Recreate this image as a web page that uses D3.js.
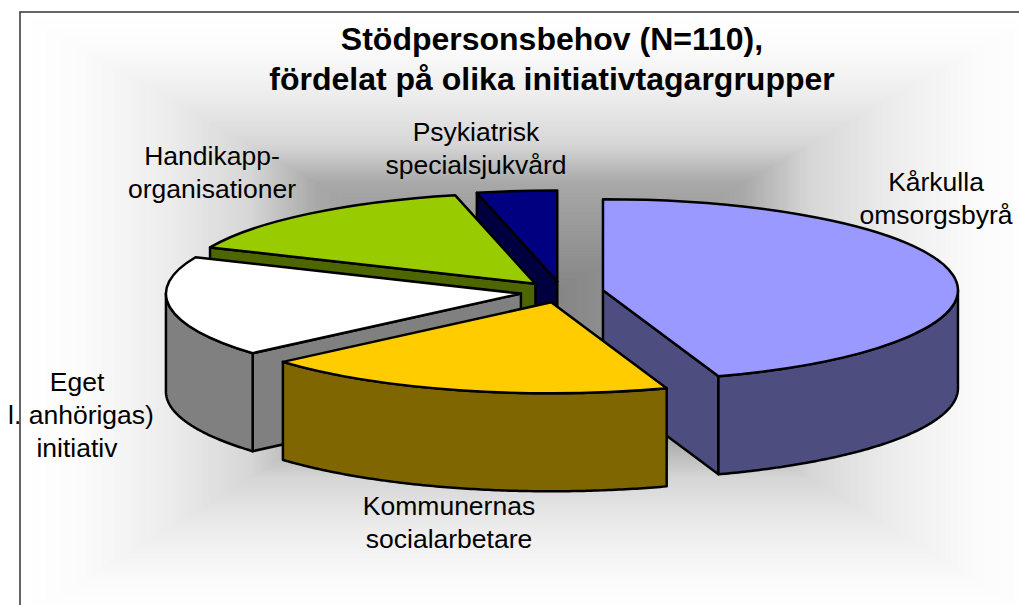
<!DOCTYPE html>
<html>
<head>
<meta charset="utf-8">
<script src="https://cdn.jsdelivr.net/npm/d3@7"></script>
<style>
  html, body { margin: 0; padding: 0; background: #fff; }
  svg { display: block; }
  text { font-family: "Liberation Sans", Arial, sans-serif; fill: #000; text-anchor: middle; }
</style>
</head>
<body>
<div id="chart"></div>
<script>
// Data (N=110)
const categories = ["Kårkulla omsorgsbyrå", "Kommunernas socialarbetare", "Eget initiativ", "Handikapporganisationer", "Psykiatrisk specialsjukvård"];
const counts = [49.2, 20.8, 19.7, 16.3, 4];
const topColors = ["#9999ff", "#ffcc00", "#ffffff", "#99cc00", "#000080"];
const sideColors = ["#4d4d80", "#806600", "#808080", "#4d6600", "#000040"];
const titleLines = ["Stödpersonsbehov (N=110),", "fördelat på olika initiativtagargrupper"];
const labelLines = [
    ["Kårkulla", "omsorgsbyrå"],
    ["Kommunernas", "socialarbetare"],
    ["Eget", "l. anhörigas)", "initiativ"],
    ["Handikapp-", "organisationer"],
    ["Psykiatrisk", "specialsjukvård"]
];

const width = 1019, height = 605;

// Pie geometry
const cx = 562, cy = 292;
const rx = 355, ry = 91, depth = 98;
const explode = 0.117;
// back to front
const drawOrder = [4, 3, 2, 0, 1];
const labelX = [936, 449, 77, 212, 476];
const labelY = [191, 515, 391, 165, 141];
const cutLineShift = 4; // the "l. anhörigas)" line sits off centre, its start is cut away

const svg = d3.select("#chart").append("svg")
    .attr("width", width)
    .attr("height", height);

// Frame and "from centre" background
const frame = { left: 20, top: 12, right: 1040, bottom: 620 };
const bgCx = 530, bgCy = 306;
const shade = d3.scaleLinear()
    .domain([0, 0.42, 0.55, 0.71, 0.88, 1])
    .range(["#808080", "#a8a8a8", "#d6d6d6", "#ececec", "#fbfbfb", "#ffffff"]);
const steps = d3.range(1, 0, -0.005);
svg.append("clipPath").attr("id", "plot")
    .append("rect")
    .attr("x", frame.left).attr("y", frame.top)
    .attr("width", frame.right - frame.left)
    .attr("height", frame.bottom - frame.top);
svg.append("g")
    .attr("clip-path", "url(#plot)")
    .selectAll("rect")
    .data(steps)
    .enter()
    .append("rect")
    .attr("x", t => bgCx - t * (bgCx - frame.left))
    .attr("y", t => bgCy - t * (bgCy - frame.top))
    .attr("width", t => t * (frame.right - frame.left))
    .attr("height", t => t * (frame.bottom - frame.top))
    .attr("fill", t => shade(t));

// Slices
const pie = d3.pie().sort(null).value(d => d);
const slices = pie(counts);
const arc = d3.arc().innerRadius(0).outerRadius(rx);
const rimLine = d3.line();

const rimPoint = (a, x0, y0) => [x0 + rx * Math.sin(a), y0 - ry * Math.cos(a)];

const stroke = sel => sel
    .attr("stroke", "#000")
    .attr("stroke-width", 2.5)
    .attr("stroke-linejoin", "round");

const layer = svg.append("g");
drawOrder.forEach(i => {
    const s = slices[i];
    const mid = (s.startAngle + s.endAngle) / 2;
    const x0 = cx + explode * rx * Math.sin(mid);
    const y0 = cy - explode * ry * Math.cos(mid);
    const g = layer.append("g").attr("class", "slice");

    // cut face that looks to the viewer
    const cutAngles = [];
    if (s.startAngle > Math.PI) cutAngles.push(s.startAngle);
    if (s.endAngle < Math.PI) cutAngles.push(s.endAngle);
    cutAngles.forEach(a => {
        const p = rimPoint(a, x0, y0);
        g.append("path")
            .attr("d", rimLine([[x0, y0], p, [p[0], p[1] + depth], [x0, y0 + depth]]) + "Z")
            .attr("fill", sideColors[i])
            .call(stroke);
    });

    // outer wall, front half only
    const a0 = Math.max(s.startAngle, Math.PI / 2);
    const a1 = Math.min(s.endAngle, Math.PI * 1.5);
    if (a1 > a0) {
        const top = d3.range(a0, a1, 0.01).concat([a1]).map(a => rimPoint(a, x0, y0));
        const bottom = top.map(p => [p[0], p[1] + depth]).reverse();
        g.append("path")
            .attr("d", rimLine(top.concat(bottom)) + "Z")
            .attr("fill", sideColors[i])
            .call(stroke);
    }

    // top face
    g.append("path")
        .attr("d", arc(s))
        .attr("transform", `translate(${x0},${y0}) scale(1,${ry / rx})`)
        .attr("vector-effect", "non-scaling-stroke")
        .attr("fill", topColors[i])
        .call(stroke);
});

// Frame line
svg.append("path")
    .attr("d", `M${frame.left},${height}V${frame.top}H${width}`)
    .attr("fill", "none")
    .attr("stroke", "#333")
    .attr("stroke-width", 1.5);

// Labels
labelLines.forEach((lines, i) => {
    svg.append("text")
        .attr("class", "label")
        .attr("font-size", 26.5)
        .selectAll("tspan")
        .data(lines)
        .enter()
        .append("tspan")
        .attr("x", d => labelX[i] + (d.startsWith("l.") ? cutLineShift : 0))
        .attr("y", (d, j) => labelY[i] + j * 33)
        .text(d => d);
});

// Title
svg.append("text")
    .attr("font-size", 32)
    .attr("font-weight", "bold")
    .selectAll("tspan")
    .data(titleLines)
    .enter()
    .append("tspan")
    .attr("x", 552)
    .attr("y", (d, j) => 50 + j * 40)
    .text(d => d);
</script>
</body>
</html>
